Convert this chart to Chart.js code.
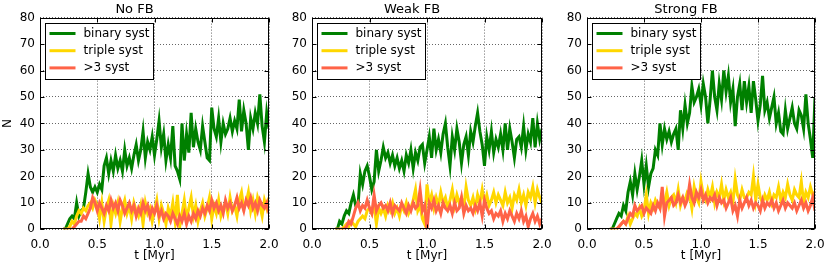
<!DOCTYPE html>
<html>
<head>
<meta charset="utf-8">
<script src="https://cdn.jsdelivr.net/npm/chart.js@4.4.0/dist/chart.umd.min.js"></script>
<style>
  body { margin: 0; background: #fff; width: 830px; height: 266px; position: relative; overflow: hidden; }
  canvas { position: absolute; top: 0; }
</style>
</head>
<body>
<canvas id="noFB" width="281" height="266" style="left:0px"></canvas>
<canvas id="weakFB" width="272" height="266" style="left:282px"></canvas>
<canvas id="strongFB" width="270" height="266" style="left:557px"></canvas>
<script>
// time axis (Myr)
const times = [
  0.20, 0.22, 0.24, 0.26, 0.28, 0.30, 0.32, 0.34, 0.36, 0.38,
  0.40, 0.42, 0.44, 0.46, 0.48, 0.50, 0.52, 0.54, 0.56, 0.58,
  0.60, 0.62, 0.64, 0.66, 0.68, 0.70, 0.72, 0.74, 0.76, 0.78,
  0.80, 0.82, 0.84, 0.86, 0.88, 0.90, 0.92, 0.94, 0.96, 0.98,
  1.00, 1.02, 1.04, 1.06, 1.08, 1.10, 1.12, 1.14, 1.16, 1.18,
  1.20, 1.22, 1.24, 1.26, 1.28, 1.30, 1.32, 1.34, 1.36, 1.38,
  1.40, 1.42, 1.44, 1.46, 1.48, 1.50, 1.52, 1.54, 1.56, 1.58,
  1.60, 1.62, 1.64, 1.66, 1.68, 1.70, 1.72, 1.74, 1.76, 1.78,
  1.80, 1.82, 1.84, 1.86, 1.88, 1.90, 1.92, 1.94, 1.96, 1.98,
  2.00
];

const xTicks = [0, 0.5, 1.0, 1.5, 2.0];
const yTicks = [0, 10, 20, 30, 40, 50, 60, 70, 80];

const seriesNames = ['binary syst', 'triple syst', '>3 syst'];
const seriesColors = ['#008000', '#ffd700', '#ff6347'];

// No FB
const noFbBinary = [
  0, 0, 2, 4, 5, 4, 10, 5, 7, 8,
  14, 21, 16, 14, 16, 14, 17, 15, 24, 27,
  21, 26, 22, 28, 23, 26, 22, 30, 24, 27,
  23, 28, 32, 26, 30, 37, 27, 33, 30, 35,
  28, 34, 41, 31, 36, 26, 32, 27, 39, 24,
  22, 19, 40, 26, 36, 29, 44, 31, 38, 33,
  30, 39, 33, 27, 26, 46, 38, 35, 42, 33,
  40, 36, 38, 42, 37, 41, 38, 49, 37, 45,
  40, 30, 42, 38, 44, 40, 51, 39, 33, 44,
  38
];
const noFbTriple = [
  0, 0, 0, 1, 3, 2, 5, 7, 6, 8,
  7, 9, 10, 8, 11, 9, 4, 10, 3, 8,
  11, 2, 9, 6, 10, 3, 8, 11, 6, 9,
  4, 10, 7, 5, 9, 2, 10, 6, 8, 3,
  7, 11, 4, 9, 6, 2, 8, 5, 10, 3,
  13, 1, 6, 11, 4, 8, 12, 5, 9, 3,
  7, 10, 5, 8, 12, 4, 9, 6, 11, 5,
  8, 10, 6, 12, 7, 9, 5, 11, 14, 8,
  10, 14, 7, 11, 6, 12, 9, 5, 11, 8,
  12
];
const noFbMulti = [
  0, 0, 0, 0, 0, 1, 2, 3, 3, 5,
  4, 6, 8, 12, 10, 7, 10, 8, 6, 9,
  7, 11, 8, 10, 7, 11, 9, 6, 8, 10,
  7, 9, 5, 8, 6, 10, 7, 9, 5, 8,
  6, 9, 5, 7, 4, 6, 5, 3, 6, 4,
  2, 5, 3, 6, 2, 5, 3, 6, 4, 7,
  5, 8, 6, 9, 7, 11, 8, 10, 7, 9,
  6, 11, 8, 10, 7, 9, 12, 8, 10, 7,
  11, 9, 12, 8, 10, 7, 11, 9, 8, 10,
  6
];

// Weak FB
const weakFbBinary = [
  0, 0, 3, 2, 5, 7, 6, 10, 13, 9,
  9, 21, 17, 22, 24, 20, 15, 18, 30, 22,
  26, 31, 27, 29, 25, 28, 24, 27, 23, 26,
  22, 28, 25, 30, 23, 29, 26, 31, 32, 25,
  30, 35, 27, 38, 30, 34, 29, 36, 40, 31,
  24, 35, 30, 38, 33, 25, 32, 35, 28, 37,
  33, 39, 44, 37, 32, 24, 35, 30, 37, 29,
  34, 31, 36, 30, 40, 30, 38, 33, 27, 34,
  35, 31, 39, 30, 36, 33, 42, 31, 40, 34,
  38
];
const weakFbTriple = [
  0, 0, 0, 0, 1, 2, 1, 3, 2, 1,
  3, 4, 5, 4, 7, 8, 6, 9, 2, 8,
  6, 8, 5, 9, 7, 10, 6, 8, 5, 9,
  7, 10, 6, 8, 11, 15, 7, 9, 4, 2,
  17, 10, 13, 8, 12, 9, 14, 10, 12, 8,
  11, 15, 9, 13, 10, 12, 8, 16, 11, 9,
  12, 8, 13, 10, 15, 10, 13, 9, 11, 14,
  10, 13, 11, 9, 14, 10, 12, 8, 13, 11,
  15, 10, 13, 9, 14, 12, 16, 10, 15, 12,
  10
];
const weakFbMulti = [
  0, 0, 0, 0, 0, 1, 3, 2, 5, 8,
  10, 7, 9, 8, 11, 8, 6, 13, 7, 9,
  10, 8, 9, 7, 10, 6, 9, 8, 7, 10,
  8, 6, 9, 7, 10, 8, 9, 15, 7, 9,
  0, 10, 8, 11, 7, 9, 6, 10, 8, 7,
  9, 6, 10, 7, 8, 12, 6, 9, 7, 8,
  6, 9, 7, 10, 5, 11, 8, 6, 7, 4,
  6, 5, 7, 3, 6, 4, 7, 5, 3, 6,
  4, 7, 3, 5, 1, 4, 6, 3, 5, 2,
  4
];

// Strong FB
const strongFbBinary = [
  0, 0, 2, 4, 6, 5, 9, 7, 14, 18,
  13, 21, 15, 20, 26, 17, 24, 16, 21, 23,
  30, 28, 40, 32, 38, 34, 37, 33, 36, 38,
  30, 45, 38, 47, 40, 44, 54, 48, 50, 53,
  47, 55, 50, 40, 49, 60, 50, 45, 55, 49,
  60, 52, 58, 48, 53, 39, 50, 55, 45, 56,
  48, 54, 44, 56, 49, 41, 47, 58, 45, 48,
  42, 46, 50, 40, 44, 37, 36, 45, 38, 42,
  46, 40, 38, 45, 43, 38, 51, 40, 34, 27,
  50
];
const strongFbTriple = [
  0, 0, 0, 0, 1, 2, 3, 2, 5, 2,
  4, 6, 5, 8, 5, 7, 13, 6, 10, 8,
  11, 9, 8, 12, 10, 14, 9, 12, 13, 10,
  15, 9, 12, 11, 14, 13, 8, 16, 12, 10,
  18, 13, 11, 15, 12, 16, 10, 14, 12, 17,
  11, 15, 12, 14, 10, 19, 13, 11, 15, 12,
  12, 14, 13, 20, 11, 17, 12, 10, 13, 11,
  14, 10, 13, 12, 16, 11, 14, 12, 17, 13,
  11, 15, 13, 12, 18, 10, 14, 12, 16, 13,
  14
];
const strongFbMulti = [
  0, 0, 0, 0, 1, 2, 3, 2, 4, 6,
  5, 9, 7, 8, 9, 6, 8, 7, 6, 9,
  7, 10, 8, 16, 5, 10, 11, 12, 9, 10,
  13, 10, 12, 9, 11, 17, 12, 10, 14, 12,
  15, 11, 13, 10, 12, 11, 13, 9, 12, 10,
  11, 8, 10, 12, 7, 9, 5, 11, 8, 10,
  12, 9, 11, 8, 10, 9, 7, 11, 8, 10,
  9, 11, 8, 10, 7, 9, 11, 8, 10, 9,
  8, 10, 7, 9, 11, 8, 10, 7, 9, 12,
  7
];

Chart.defaults.font.family = "'DejaVu Sans', sans-serif";
Chart.defaults.font.size = 12;
Chart.defaults.color = '#000';

// frame, inward ticks and legend box drawn over the data like matplotlib
const framePlugin = {
  id: 'frame',
  afterDatasetsDraw(chart) {
    const { ctx, chartArea: a, scales: { x, y } } = chart;
    const l = Math.round(a.left) + 0.5, r = Math.round(a.right) - 0.5;
    const t = Math.round(a.top) + 0.5, b = Math.round(a.bottom) - 0.5;
    ctx.save();
    ctx.strokeStyle = '#000';
    ctx.lineWidth = 1;
    ctx.strokeRect(l, t, r - l, b - t);
    ctx.beginPath();
    xTicks.forEach(v => {
      const px = Math.round(x.getPixelForValue(v)) + 0.5;
      ctx.moveTo(px, b); ctx.lineTo(px, b - 4);
      ctx.moveTo(px, t); ctx.lineTo(px, t + 4);
    });
    yTicks.forEach(v => {
      const py = Math.round(y.getPixelForValue(v)) + 0.5;
      ctx.moveTo(l, py); ctx.lineTo(l + 4, py);
      ctx.moveTo(r, py); ctx.lineTo(r - 4, py);
    });
    ctx.stroke();

    // legend
    const bx = l + 5, by = t + 5, bw = 108, bh = 56;
    ctx.fillStyle = '#fff';
    ctx.fillRect(bx, by, bw, bh);
    ctx.strokeRect(bx, by, bw, bh);
    ctx.font = "12px 'DejaVu Sans'";
    ctx.textBaseline = 'middle';
    seriesNames.forEach((name, i) => {
      const ly = by + 10 + i * 17.2;
      ctx.strokeStyle = seriesColors[i];
      ctx.lineWidth = 3;
      ctx.beginPath();
      ctx.moveTo(bx + 4, ly);
      ctx.lineTo(bx + 30, ly);
      ctx.stroke();
      ctx.fillStyle = '#000';
      ctx.fillText(name, bx + 38, ly);
    });
    ctx.restore();
  }
};

function makePanel(id, title, binary, triple, multi, showYTitle, yWidth) {
  const series = [binary, triple, multi];
  new Chart(document.getElementById(id), {
    type: 'line',
    data: {
      datasets: series.map((vals, i) => ({
        label: seriesNames[i],
        data: times.map((t, j) => ({ x: t, y: vals[j] })),
        borderColor: seriesColors[i],
        backgroundColor: seriesColors[i],
        borderWidth: 3,
        pointRadius: 0,
        tension: 0,
        clip: 0,
        order: 3 - i
      }))
    },
    options: {
      responsive: false,
      animation: false,
      events: [],
      layout: { padding: { left: 0, right: 12, top: 0, bottom: 0 } },
      plugins: {
        legend: { display: false },
        tooltip: { enabled: false },
        title: {
          display: true,
          text: title,
          color: '#000',
          font: { size: 13, weight: 'normal' },
          padding: { top: 2, bottom: 0 }
        }
      },
      scales: {
        x: {
          type: 'linear',
          min: 0,
          max: 2,
          afterBuildTicks: s => { s.ticks = xTicks.map(v => ({ value: v })); },
          afterFit: s => { s.height = 36.7; s.paddingLeft = 0; s.paddingRight = 0; },
          ticks: { padding: 8, maxRotation: 0, autoSkip: false, callback: v => v.toFixed(1) },
          grid: { color: 'rgba(0,0,0,0.6)', lineWidth: 1, drawTicks: false },
          border: { display: false, dash: [1, 2] },
          title: { display: true, text: 't [Myr]', font: { size: 12 }, padding: { top: 0, bottom: 3 } }
        },
        y: {
          type: 'linear',
          min: 0,
          max: 80,
          afterBuildTicks: s => { s.ticks = yTicks.map(v => ({ value: v })); },
          afterFit: s => { s.width = yWidth; },
          ticks: { padding: 5, callback: v => String(v) },
          grid: { color: 'rgba(0,0,0,0.6)', lineWidth: 1, drawTicks: false },
          border: { display: false, dash: [1, 2] },
          title: { display: showYTitle, text: 'N', font: { size: 12 }, padding: { top: 1, bottom: 0 } }
        }
      }
    },
    plugins: [framePlugin]
  });
}

makePanel('noFB', 'No FB', noFbBinary, noFbTriple, noFbMulti, true, 40);
makePanel('weakFB', 'Weak FB', weakFbBinary, weakFbTriple, weakFbMulti, false, 30);
makePanel('strongFB', 'Strong FB', strongFbBinary, strongFbTriple, strongFbMulti, false, 30);
</script>
</body>
</html>
